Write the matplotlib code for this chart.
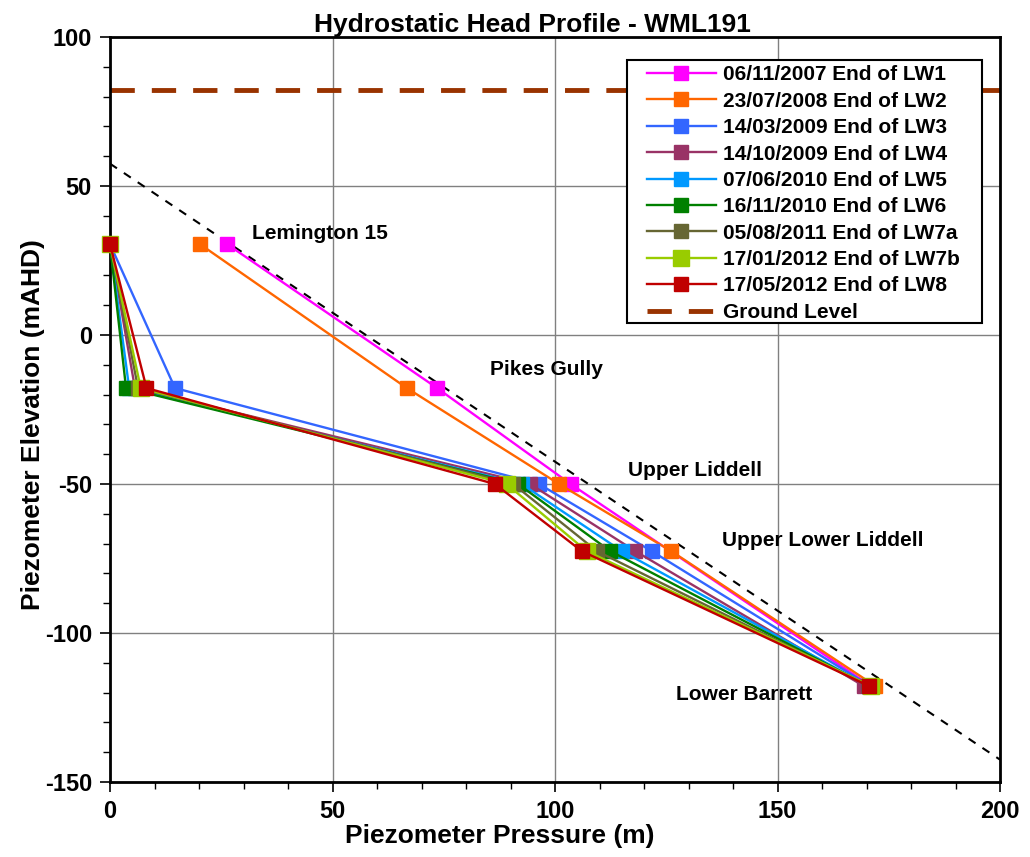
import numpy as np
import matplotlib
matplotlib.use("Agg")
import matplotlib.pyplot as plt
from matplotlib.ticker import MultipleLocator
from matplotlib.patches import Rectangle

plt.rcParams['font.family'] = ['Liberation Sans', 'DejaVu Sans']
plt.rcParams['font.weight'] = 'bold'
plt.rcParams['axes.unicode_minus'] = False

# Piezometer elevations (mAHD)
elevations = [30.5, -17.8, -50.0, -72.5, -117.8]
units = ["Lemington 15", "Pikes Gully", "Upper Liddell", "Upper Lower Liddell", "Lower Barrett"]

series_labels = [
    "06/11/2007 End of LW1",
    "23/07/2008 End of LW2",
    "14/03/2009 End of LW3",
    "14/10/2009 End of LW4",
    "07/06/2010 End of LW5",
    "16/11/2010 End of LW6",
    "05/08/2011 End of LW7a",
    "17/01/2012 End of LW7b",
    "17/05/2012 End of LW8",
]
series_colors = ["#FF00FF", "#FF6600", "#3366FF", "#993366", "#0099FF",
                 "#008000", "#666633", "#99CC00", "#C00000"]

# Pressures (m) at each piezometer, same order as elevations
lw1 = [26.3, 73.5, 103.5, np.nan, 171.0]
lw2 = [20.2, 66.7, 100.9, 126.1, 172.0]
lw3 = [0.0, 14.6, 96.4, 121.7, 170.8]
lw4 = [0.0, 5.6, 94.4, 118.0, 169.4]
lw5 = [0.0, 4.3, 92.5, 115.0, 170.5]
lw6 = [0.0, 3.6, 91.7, 112.4, 170.5]
lw7a = [0.0, 6.3, 90.6, 109.4, 170.6]
lw7b = [0.0, 6.9, 89.1, 107.1, 171.0]
lw8 = [0.0, 8.2, 86.5, 106.0, 170.6]
pressures = [lw1, lw2, lw3, lw4, lw5, lw6, lw7a, lw7b, lw8]

ground_level = 82.2
hydro_x = [0.0, 200.0]
hydro_y = [57.5, -142.5]

fig = plt.figure(figsize=(10.30, 8.57), dpi=100)
ax = fig.add_axes([0.1068, 0.0875, 0.8641, 0.8693])

ax.set_xlim(0, 200)
ax.set_ylim(-150, 100)

ax.grid(True, which='major', color='#808080', linewidth=1.0, zorder=0)
ax.set_axisbelow(True)

ax.plot(hydro_x, hydro_y, color='black', linestyle=(0, (4, 4)), linewidth=1.5, zorder=2)

for lab, col, p in zip(series_labels, series_colors, pressures):
    p = np.asarray(p, dtype=float)
    e = np.asarray(elevations, dtype=float)
    m = ~np.isnan(p)
    ms = 11.5 if col == "#99CC00" else 10
    ax.plot(p[m], e[m], color=col, linewidth=1.7, marker='s', markersize=ms,
            markerfacecolor=col, markeredgecolor=col, label=lab, zorder=3,
            clip_on=False)

ax.axhline(ground_level, color='#993300', linewidth=3.5, linestyle=(0, (5, 3.5)),
           label="Ground Level", zorder=2)

# unit annotations
ann_pos = [(32, 34), (85.4, -11.7), (116.4, -45.6), (137.5, -69), (127.2, -120.5)]
for name, (tx, ty) in zip(units, ann_pos):
    ax.text(tx, ty, name, fontsize=15, fontweight='bold', ha='left', va='center', zorder=4)

ax.xaxis.set_major_locator(MultipleLocator(50))
ax.xaxis.set_minor_locator(MultipleLocator(10))
ax.yaxis.set_major_locator(MultipleLocator(50))
ax.yaxis.set_minor_locator(MultipleLocator(10))
ax.tick_params(axis='both', which='major', direction='out', length=7, width=1.2,
               labelsize=17, pad=6)
ax.tick_params(axis='both', which='minor', direction='out', length=5, width=1.0)
for lbl in ax.get_xticklabels() + ax.get_yticklabels():
    lbl.set_fontweight('bold')
for s in ax.spines.values():
    s.set_linewidth(2.0)
    s.set_color('black')

ax.set_xlabel("Piezometer Pressure (m)", fontsize=19, fontweight='bold')
ax.set_ylabel("Piezometer Elevation (mAHD)", fontsize=19, fontweight='bold')
ax.xaxis.set_label_coords(0.438, -0.056)
ax.yaxis.set_label_coords(-0.073, 0.48)
ax.set_title("Hydrostatic Head Profile - WML191", fontsize=19, fontweight='bold', pad=3,
             x=0.475)

# legend frame (asymmetric padding like the reference)
frame = Rectangle((0.581, 0.616), 0.980 - 0.581, 0.969 - 0.616, transform=ax.transAxes,
                  facecolor='white', edgecolor='black', linewidth=1.5, zorder=5,
                  clip_on=False)
ax.add_patch(frame)
leg = ax.legend(loc='upper left', bbox_to_anchor=(0.6034, 0.962), fontsize=15,
                frameon=False, borderpad=0, labelspacing=0.355, handlelength=3.3,
                handletextpad=0.33, borderaxespad=0)
leg.set_zorder(6)
for t in leg.get_texts():
    t.set_fontweight('bold')

fig.savefig("out.png", dpi=100)
